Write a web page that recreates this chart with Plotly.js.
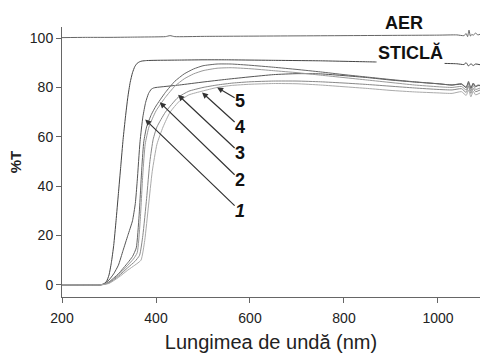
<!DOCTYPE html>
<html>
<head>
<meta charset="utf-8">
<script src="https://cdn.plot.ly/plotly-3.0.1.min.js"></script>
<style>html,body{margin:0;padding:0;background:#fff;}#chart{width:480px;height:355px;}</style>
</head>
<body>
<div id="chart"></div>
<script>
// Wavelength (nm) and transmittance (%T)
const wlAer = [200, 250, 300, 350, 400, 420, 430, 440, 500, 600, 700, 800, 900, 1000, 1040, 1055, 1060, 1063, 1066, 1069, 1072, 1075, 1080, 1085, 1090];
const tAer  = [100.2, 100.3, 100.3, 100.4, 100.5, 100.6, 101.0, 100.6, 100.7, 100.8, 100.9, 101.0, 101.1, 101.2, 101.3, 101.0, 101.8, 100.6, 103.2, 100.8, 101.5, 101.2, 102.0, 101.3, 101.6];

const wlSticla = [200, 280, 288, 295, 300, 305, 310, 315, 320, 325, 330, 335, 340, 345, 350, 355, 360, 365, 370, 380, 400, 450, 500, 550, 600, 650, 700, 750, 800, 850, 900, 950, 1000, 1040, 1055, 1060, 1065, 1070, 1075, 1080, 1090];
const tSticla  = [0, 0, 0.3, 1.5, 4, 9, 16, 26, 37, 48, 59, 68, 76, 82, 86, 88.5, 89.8, 90.4, 90.7, 90.9, 91, 91.1, 91.2, 91.2, 91.1, 91, 90.9, 90.8, 90.6, 90.4, 90.2, 90, 89.8, 89.6, 89.3, 90, 88.7, 89.6, 88.9, 89.5, 89.2];

const wl1 = [200, 280, 290, 300, 310, 320, 330, 340, 350, 356, 360, 366, 372, 378, 384, 390, 395, 400, 450, 500, 550, 600, 650, 700, 750, 800, 850, 900, 950, 1000, 1030, 1050, 1060, 1065, 1070, 1075, 1080, 1085, 1090];
const t1  = [0, 0, 0.5, 2, 4.5, 8, 14, 20, 26, 33, 42, 58, 68, 74, 77.5, 79.3, 79.8, 80, 81, 82.2, 83.3, 84.3, 85.2, 85.6, 85.5, 84.8, 84, 83, 82.2, 81.5, 81, 81.3, 80, 82, 79.5, 81.5, 80.2, 81, 80.6];

const wl2 = [200, 280, 290, 300, 320, 340, 350, 358, 364, 370, 374, 380, 390, 400, 420, 440, 460, 480, 500, 530, 560, 600, 650, 700, 750, 800, 850, 900, 950, 1000, 1030, 1050, 1060, 1065, 1070, 1075, 1080, 1090];
const t2  = [0, 0, 0.3, 1.2, 4.5, 9, 11.5, 15, 28, 48, 58, 64, 69, 72.5, 78, 82.5, 85.5, 87.5, 88.8, 89.5, 89.5, 89, 88.2, 87.3, 86.3, 85.2, 84.2, 83.2, 82.3, 81.5, 81, 81.5, 80, 82.5, 79.8, 81.8, 80.5, 81];

const wl3 = [200, 280, 290, 300, 320, 340, 352, 360, 366, 372, 377, 385, 400, 420, 440, 460, 480, 500, 530, 560, 600, 650, 700, 750, 800, 850, 900, 950, 1000, 1030, 1050, 1060, 1065, 1070, 1075, 1080, 1090];
const t3  = [0, 0, 0.3, 1, 4, 8, 10.5, 13, 25, 45, 57, 64, 70.5, 76, 80.5, 83.5, 85.5, 86.8, 87.8, 88, 87.6, 86.8, 86, 85, 84, 83, 82, 81, 80.3, 80, 80.4, 79, 81.3, 78.6, 80.8, 79.2, 79.8];

const wl4 = [200, 280, 290, 300, 320, 340, 355, 365, 372, 380, 387, 394, 402, 420, 447, 470, 500, 530, 564, 600, 650, 700, 750, 800, 850, 900, 950, 1000, 1030, 1050, 1060, 1065, 1070, 1075, 1080, 1090];
const t4  = [0, 0, 0.2, 0.8, 3.5, 7, 9.5, 12, 20, 35, 50, 59, 64, 70, 76, 78.5, 80, 81, 81.8, 82.3, 82.6, 82.6, 82.3, 81.8, 81.2, 80.5, 79.8, 79.2, 79, 79.5, 78, 80.5, 77.6, 79.6, 78.3, 79];

const wl5 = [200, 280, 290, 300, 320, 340, 355, 368, 376, 384, 392, 402, 415, 430, 450, 470, 498, 530, 560, 600, 650, 700, 750, 800, 850, 900, 950, 1000, 1030, 1050, 1060, 1065, 1070, 1075, 1080, 1090];
const t5  = [0, 0, 0.2, 0.6, 3, 6, 8, 10, 18, 32, 46, 57, 64, 70, 74.5, 77, 78.5, 80, 80.8, 81.3, 81.6, 81.5, 81, 80.3, 79.6, 78.8, 78.2, 77.8, 77.6, 78.3, 76.8, 79, 76.2, 78.5, 77, 77.8];

const xTicks = [200, 400, 600, 800, 1000];
const yTicks = [0, 20, 40, 60, 80, 100];
const curveLabels = ['1', '2', '3', '4', '5'];

function tr(x, y, color) {
  return {x: x, y: y, type: 'scatter', mode: 'lines', hoverinfo: 'skip',
          line: {color: color, width: 1, shape: 'spline', smoothing: 0.5}};
}

const data = [
  tr(wlAer, tAer, '#666'),
  tr(wlSticla, tSticla, '#444'),
  tr(wl1, t1, '#555'),
  tr(wl2, t2, '#666'),
  tr(wl3, t3, '#999'),
  tr(wl4, t4, '#888'),
  tr(wl5, t5, '#aaa')
];

const tickFont = {family: 'Liberation Sans, Arial, sans-serif', size: 14, color: '#222'};
const labFont = {family: 'Liberation Sans, Arial, sans-serif', size: 18, color: '#111'};

// arrow tips (wavelength, %T) and label anchor positions
const tips = [[377, 67], [408, 74], [447, 77], [498, 78], [530, 80]];
const tails = [[579, 30], [579, 42.5], [579, 53.4], [579, 64], [579, 74.5]];

const annotations = curveLabels.map((lab, i) => ({
  x: tips[i][0], y: tips[i][1], xref: 'x', yref: 'y',
  ax: tails[i][0], ay: tails[i][1], axref: 'x', ayref: 'y',
  text: i === 0 ? '<b><i>' + lab + '</i></b>' : '<b>' + lab + '</b>',
  showarrow: true, arrowhead: 2, arrowsize: 1, arrowwidth: 1.2, arrowcolor: '#333',
  font: labFont, borderpad: 0
}));
annotations.push({xref: 'paper', yref: 'paper', x: 0.818, y: 1.015, text: '<b>AER</b>',
  showarrow: false, font: labFont, xanchor: 'center', yanchor: 'middle'});
annotations.push({xref: 'paper', yref: 'paper', x: 0.833, y: 0.907, text: '<b>STICLĂ</b>',
  showarrow: false, font: labFont, xanchor: 'center', yanchor: 'middle', bgcolor: '#fff'});

const layout = {
  width: 480, height: 355,
  margin: {l: 62, r: 0, t: 27, b: 58},
  paper_bgcolor: '#fff', plot_bgcolor: '#fff',
  showlegend: false,
  xaxis: {
    range: [200, 1089.4], tickvals: xTicks, ticktext: xTicks.map(String),
    showline: true, linecolor: '#666', linewidth: 1, ticks: 'outside', ticklen: 5, tickcolor: '#666',
    showgrid: false, zeroline: false, tickfont: tickFont, ticklabelstandoff: 3,
    title: {text: 'Lungimea de undă (nm)', font: {family: 'Liberation Sans, Arial, sans-serif', size: 20, color: '#222'}, standoff: 10}
  },
  yaxis: {
    range: [-4.9, 104.5], tickvals: yTicks, ticktext: yTicks.map(String),
    showline: true, linecolor: '#666', linewidth: 1, ticks: 'outside', ticklen: 5, tickcolor: '#666',
    showgrid: false, zeroline: false, tickfont: tickFont,
    title: {text: '<b>%T</b>', font: {family: 'Liberation Sans, Arial, sans-serif', size: 15, color: '#222'}, standoff: 4}
  },
  annotations: annotations
};

Plotly.newPlot('chart', data, layout, {staticPlot: true, displayModeBar: false});
</script>
</body>
</html>
